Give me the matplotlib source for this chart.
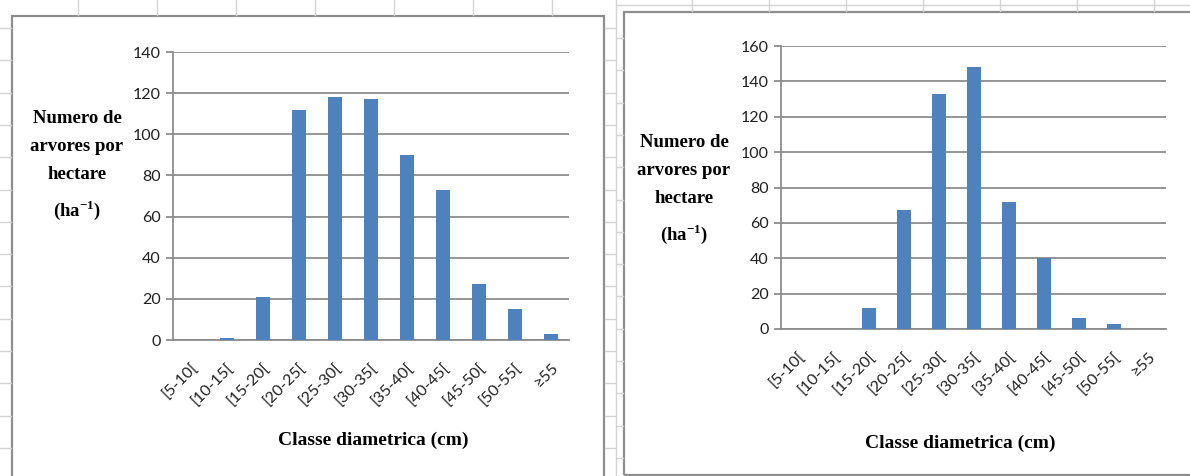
import numpy as np
import matplotlib.pyplot as plt
from matplotlib.patches import Rectangle
from matplotlib.lines import Line2D

plt.rcParams['mathtext.fontset'] = 'custom'
plt.rcParams['mathtext.rm'] = 'Liberation Serif:bold'
plt.rcParams['mathtext.bf'] = 'Liberation Serif:bold'

# diameter classes
classes = ['[5-10[', '[10-15[', '[15-20[', '[20-25[', '[25-30[', '[30-35[',
           '[35-40[', '[40-45[', '[45-50[', '[50-55[', '\u226555']
# trees per hectare, left and right charts
left_vals = [0, 1, 21, 112, 118, 117, 90, 73, 27, 15, 3]
right_vals = [0, 0, 12, 67, 133, 148, 72, 40, 6, 3, 0]
left_yticks = [0, 20, 40, 60, 80, 100, 120, 140]
right_yticks = [0, 20, 40, 60, 80, 100, 120, 140, 160]

ylab = 'Numero de\narvores por\nhectare\n(ha$^{-1}$)'
xlab = 'Classe diametrica (cm)'

W, H = 1190, 476
bar_col = '#4F81BD'
grid_col = '#8C8C8C'
sheet_col = '#D4D4D4'

fig = plt.figure(figsize=(W / 100, H / 100), dpi=100)
fig.patch.set_facecolor('white')


def px_axes(x0, x1, ytop, ybot):
    return fig.add_axes([x0 / W, (H - ybot) / H, (x1 - x0) / W, (ybot - ytop) / H])


def fline(xs, ys, **kw):
    fig.add_artist(Line2D([x / W for x in xs], [(H - y) / H for y in ys],
                          transform=fig.transFigure, **kw))


# spreadsheet background bits
for x in np.arange(78, 600, 79):
    fline([x, x], [0, 15], color=sheet_col, lw=1)
for x in np.arange(692, 1190, 77):
    fline([x, x], [0, 11], color=sheet_col, lw=1)
fline([616, 1190], [5, 5], color=sheet_col, lw=1)
fline([616, 616], [0, 476], color=sheet_col, lw=1)
for y in np.arange(28, 476, 32.3):
    fline([0, 11], [y, y], color=sheet_col, lw=1)
    fline([605, 616], [y, y], color=sheet_col, lw=1)
for y in np.arange(38, 476, 32.3):
    fline([616, 623], [y, y], color=sheet_col, lw=1)

# chart frames
fig.add_artist(Rectangle((12 / W, -0.05), (604 - 12) / W, (H - 16) / H + 0.05,
                         transform=fig.transFigure, fill=False,
                         edgecolor='#8E8E8E', lw=1.6))
fig.add_artist(Rectangle((624 / W, (H - 475) / H), 0.5, (475 - 12) / H,
                         transform=fig.transFigure, fill=False,
                         edgecolor='#8E8E8E', lw=1.6))


def draw(ax, vals, yticks):
    x = np.arange(len(classes))
    ax.bar(x, vals, width=0.4, color=bar_col, zorder=3)
    ax.set_xlim(-0.5, len(classes) - 0.5)
    ax.set_ylim(0, yticks[-1])
    ax.set_yticks(yticks)
    ax.set_xticks(x)
    ax.set_xticklabels(classes, rotation=45, ha='right', rotation_mode='anchor',
                       fontsize=11.5, family='Lato', color='#202020')
    for lab in ax.get_yticklabels():
        lab.set_family('Lato')
        lab.set_fontsize(11.5)
        lab.set_color('#202020')
    ax.yaxis.grid(True, color=grid_col, lw=1.3, zorder=0)
    ax.set_axisbelow(True)
    for s in ['top', 'right']:
        ax.spines[s].set_visible(False)
    for s in ['left', 'bottom']:
        ax.spines[s].set_color(grid_col)
        ax.spines[s].set_linewidth(1.3)
    ax.tick_params(axis='y', length=5, width=1.3, color=grid_col, pad=4)
    ax.tick_params(axis='x', length=0, pad=15)
    ax.set_facecolor('none')


axl = px_axes(173, 569, 52, 340)
draw(axl, left_vals, left_yticks)
axr = px_axes(781, 1166, 46, 329)
draw(axr, right_vals, right_yticks)

# axis titles
fig.text(77 / W, (H - 166) / H, ylab, ha='center', va='center', fontsize=13.5,
         family='Liberation Serif', weight='bold', linespacing=1.85)
fig.text(684 / W, (H - 190) / H, ylab, ha='center', va='center', fontsize=13.5,
         family='Liberation Serif', weight='bold', linespacing=1.85)
fig.text(373 / W, (H - 440) / H, xlab, ha='center', va='center', fontsize=14,
         family='Liberation Serif', weight='bold')
fig.text(960 / W, (H - 443) / H, xlab, ha='center', va='center', fontsize=14,
         family='Liberation Serif', weight='bold')

fig.savefig('out.png', dpi=100, facecolor='white')
